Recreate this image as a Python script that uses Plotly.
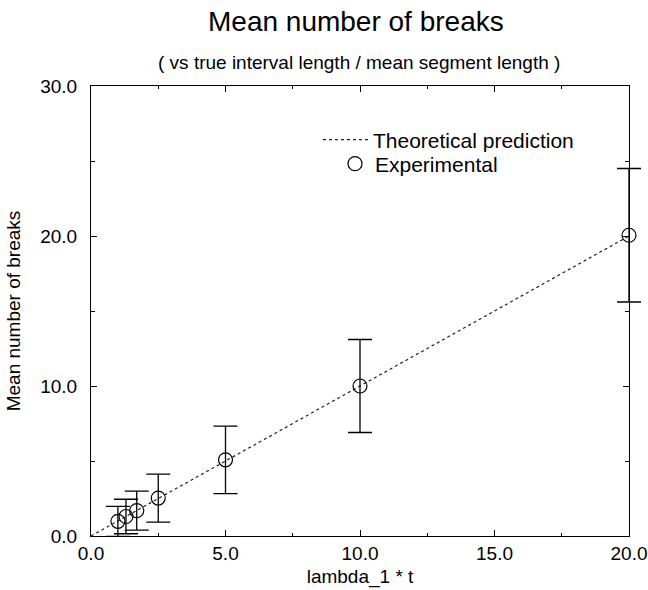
import plotly.graph_objects as go

# Experimental mean number of breaks vs lambda_1 * t, with error bars
exp_x = [1.0, 1.3, 1.7, 2.5, 5.0, 10.0, 20.0]
exp_y = [0.98, 1.3, 1.69, 2.53, 5.08, 10.0, 20.05]
exp_err = [1.0, 1.15, 1.3, 1.6, 2.25, 3.1, 4.45]

# Theoretical prediction: mean number of breaks equals lambda_1 * t
theory_x = [0.0, 20.0]
theory_y = [0.0, 20.0]

x_ticks = [0, 5, 10, 15, 20]
y_ticks = [0, 10, 20, 30]
x_range = [0, 20]
y_range = [0, 30]

FONT = "Liberation Sans, Arial, Helvetica, sans-serif"

W, H = 648, 590
M_L, M_R, M_T, M_B = 91, 5, 86, 54
# the framed axes stop short of the right margin so that the error-bar caps
# at the last point can spill past the frame without being clipped
frame_right = 629
x_dom = (frame_right - M_L) / (W - M_L - M_R)

fig = go.Figure()

fig.add_trace(go.Scatter(
    x=theory_x, y=theory_y, mode="lines",
    name="Theoretical prediction",
    line=dict(color="#222222", width=1.2, dash="dot"),
    cliponaxis=False,
))

# experimental points live on a wider companion subplot with the same scale
fig.add_trace(go.Scatter(
    x=exp_x, y=exp_y, mode="markers",
    name="Experimental", legend="legend2",
    xaxis="x2", yaxis="y2",
    marker=dict(symbol="circle-open", size=14, color="black",
                line=dict(color="black", width=1.2)),
    error_y=dict(type="data", array=exp_err, visible=True,
                 color="black", thickness=1.3, width=12),
    cliponaxis=False,
))

axis_common = dict(
    showline=True, linecolor="black", linewidth=1.1,
    mirror="ticks", ticks="inside", tickcolor="black",
    tickwidth=1.1, ticklen=6, showgrid=False, zeroline=False,
    automargin=False,
    tickformat=".1f", tickfont=dict(family=FONT, size=19, color="black"),
)

fig.update_layout(
    xaxis=dict(
        domain=[0, x_dom], range=x_range, tickvals=x_ticks,
        minor=dict(dtick=2.5, ticks="inside", ticklen=3, tickcolor="black", tickwidth=1.1),
        title=dict(text="lambda_1 * t", font=dict(family=FONT, size=19, color="black"), standoff=6),
        **axis_common,
    ),
    yaxis=dict(
        range=y_range, tickvals=y_ticks, ticklabelstandoff=9,
        minor=dict(dtick=5, ticks="inside", ticklen=4, tickcolor="black", tickwidth=1.1),
        title=dict(text="Mean number of breaks", font=dict(family=FONT, size=19, color="black"), standoff=14),
        **axis_common,
    ),
    xaxis2=dict(domain=[0, 1], range=[x_range[0], x_range[1] / x_dom],
                anchor="y2", visible=False, automargin=False),
    yaxis2=dict(domain=[0, 1], range=y_range, anchor="x2",
                visible=False, automargin=False),
)

def px_x(p):
    return (p - M_L) / (W - M_L - M_R)

def px_y(p):
    return (H - M_B - p) / (H - M_T - M_B)

legend_common = dict(
    xanchor="left", yanchor="middle",
    bgcolor="rgba(0,0,0,0)", borderwidth=0,
    font=dict(family=FONT, size=21, color="black"),
)

fig.update_layout(
    width=W, height=H,
    margin=dict(l=M_L, r=M_R, t=M_T, b=M_B),
    paper_bgcolor="white", plot_bgcolor="rgba(0,0,0,0)",
    font=dict(family=FONT, color="black"),
    showlegend=True,
    legend=dict(x=px_x(318), y=px_y(140), itemwidth=45, **legend_common),
    legend2=dict(x=px_x(335), y=px_y(164), itemwidth=30, **legend_common),
    annotations=[
        dict(text="Mean number of breaks", xref="paper", yref="paper",
             x=px_x(356), y=px_y(22), xanchor="center", yanchor="middle",
             showarrow=False, font=dict(family=FONT, size=28, color="black")),
        dict(text="( vs true interval length / mean segment length )",
             xref="paper", yref="paper", x=px_x(359), y=px_y(62),
             xanchor="center", yanchor="middle",
             showarrow=False, font=dict(family=FONT, size=19, color="black")),
    ],
)

fig.write_html("out.html")
